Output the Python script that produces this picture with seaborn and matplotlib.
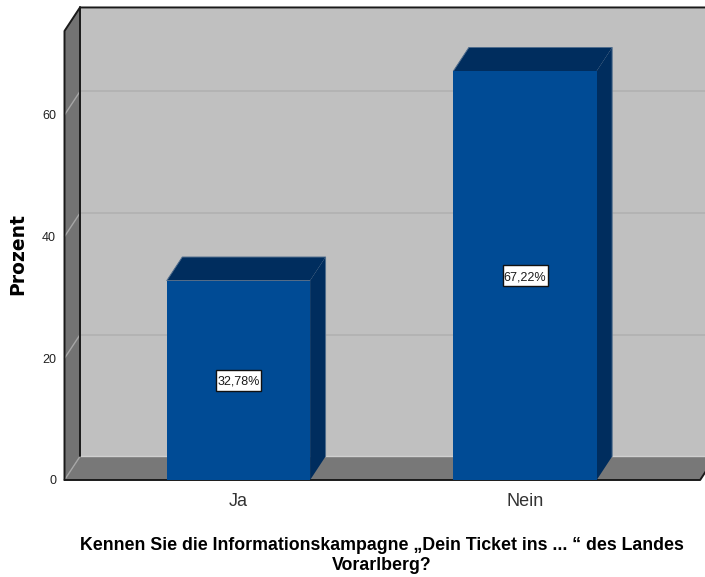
import matplotlib
matplotlib.use("Agg")
import matplotlib.pyplot as plt
from matplotlib.patches import Rectangle
import pandas as pd
import seaborn as sns

# Data
categories = ["Ja", "Nein"]
percent = [32.78, 67.22]
percent_labels = ["32,78%", "67,22%"]
y_ticks = [0, 20, 40, 60]
x_title = "Kennen Sie die Informationskampagne „Dein Ticket ins ... “ des Landes\nVorarlberg?"
y_title = "Prozent"

# -------------------------------
# Colours and 3D depth
# -------------------------------
WALL = "#C0C0C0"
SIDE = "#737373"
FLOOR = "#787878"
GRID = "#B2B2B2"
BAR = "#004B95"
BAR_DARK = "#002D5E"
BAR_EDGE = "#4F6C8C"
DX = 0.054
DY = 3.87
XMIN, XMAX, YMAX = -0.607, 1.628, 73.8
FLOOR_END = 1.611
BOX_W = 45 / 286.5
BOX_H = 21 / 6.08

sns.set_theme(style="white")
plt.rcParams["font.family"] = ["Liberation Sans", "DejaVu Sans"]

df = pd.DataFrame({"antwort": categories, "prozent": percent})

fig = plt.figure(figsize=(7.05, 5.77), dpi=100, facecolor="white")
ax = fig.add_axes([64.5 / 705, (577 - 480) / 577, 640.5 / 705, 449 / 577])

sns.barplot(data=df, x="antwort", y="prozent", order=categories, width=0.5,
            color=BAR, saturation=1, linewidth=0, ax=ax, zorder=5)
ax.set_xlim(XMIN, XMAX)
ax.set_ylim(0, YMAX)
ax.patch.set_visible(False)
sns.despine(ax=ax, left=True, bottom=True)

# -------------------------------
# Back wall, side wall, floor
# -------------------------------
ax.fill([XMIN + DX, XMAX + DX, XMAX + DX, XMIN + DX], [DY, DY, YMAX + DY, YMAX + DY],
        color=WALL, lw=0, clip_on=False, zorder=1)
ax.fill([XMIN, XMIN + DX, XMIN + DX, XMIN], [0, DY, YMAX + DY, YMAX],
        color=SIDE, lw=0, clip_on=False, zorder=1)
ax.fill([XMIN, FLOOR_END, FLOOR_END + DX, XMIN + DX], [0, 0, DY, DY],
        color=FLOOR, lw=0, clip_on=False, zorder=1)

for t in y_ticks[1:]:
    ax.plot([XMIN, XMIN + DX], [t, t + DY], color="#A6A6A6", lw=1, clip_on=False, zorder=2)
    ax.plot([XMIN + DX, XMAX + DX], [t + DY, t + DY], color=GRID, lw=1.3,
            clip_on=False, zorder=2)
ax.plot([XMIN, XMIN + DX], [0, DY], color="#A6A6A6", lw=1, clip_on=False, zorder=2)
ax.plot([XMIN + DX, XMAX + DX], [DY, DY], color="#D0D0D0", lw=1, clip_on=False, zorder=2)

# outline
line = dict(color="#1A1A1A", lw=1.4, clip_on=False, zorder=3, solid_capstyle="round")
ax.plot([XMIN, XMIN, XMIN + DX, XMAX + DX], [0, YMAX, YMAX + DY, YMAX + DY], **line)
ax.plot([XMIN + DX, XMIN + DX], [DY, YMAX + DY], **line)
ax.plot([XMIN, FLOOR_END, FLOOR_END + DX], [0, 0, DY], **line)

# -------------------------------
# Bar top and side faces
# -------------------------------
for bar in ax.patches[:len(categories)]:
    x0 = bar.get_x()
    x1 = x0 + bar.get_width()
    h = bar.get_height()
    ax.fill([x0, x1, x1 + DX, x0 + DX], [h, h, h + DY, h + DY],
            color=BAR_DARK, lw=0, zorder=4)
    ax.fill([x1, x1 + DX, x1 + DX, x1], [0, DY, h + DY, h],
            color=BAR_DARK, lw=0, zorder=4)
    ax.plot([x0, x0 + DX, x1 + DX, x1 + DX], [h, h + DY, h + DY, DY],
            color=BAR_EDGE, lw=0.7, zorder=4)

# value labels in white boxes
for i, (v, lab) in enumerate(zip(percent, percent_labels)):
    ax.add_patch(Rectangle((i - BOX_W / 2, v / 2 - BOX_H / 2), BOX_W, BOX_H,
                           fc="white", ec="#111111", lw=1, zorder=6))
    ax.text(i, v / 2, lab, ha="center", va="center_baseline", fontsize=9,
            color="#1A1A1A", zorder=7)

# -------------------------------
# Axes text
# -------------------------------
ax.set_yticks(y_ticks)
ax.tick_params(axis="y", length=0, pad=6, labelsize=9, labelcolor="#222222")
ax.tick_params(axis="x", length=0, pad=9, labelsize=13, labelcolor="#333333")
ax.set_xlabel(x_title, fontsize=12.75, fontweight="bold", color="black", linespacing=1.2)
ax.xaxis.set_label_coords((381.5 - 64.5) / 640.5, -(537 - 480) / 449, transform=ax.transAxes)
ax.xaxis.label.set_verticalalignment("top")
ax.set_ylabel(y_title, fontsize=13.5, fontweight="bold", color="black", family="DejaVu Sans")
ax.yaxis.set_label_coords(-(64.5 - 27) / 640.5, (480 - 254) / 449, transform=ax.transAxes)

fig.savefig("out.png", dpi=100)
